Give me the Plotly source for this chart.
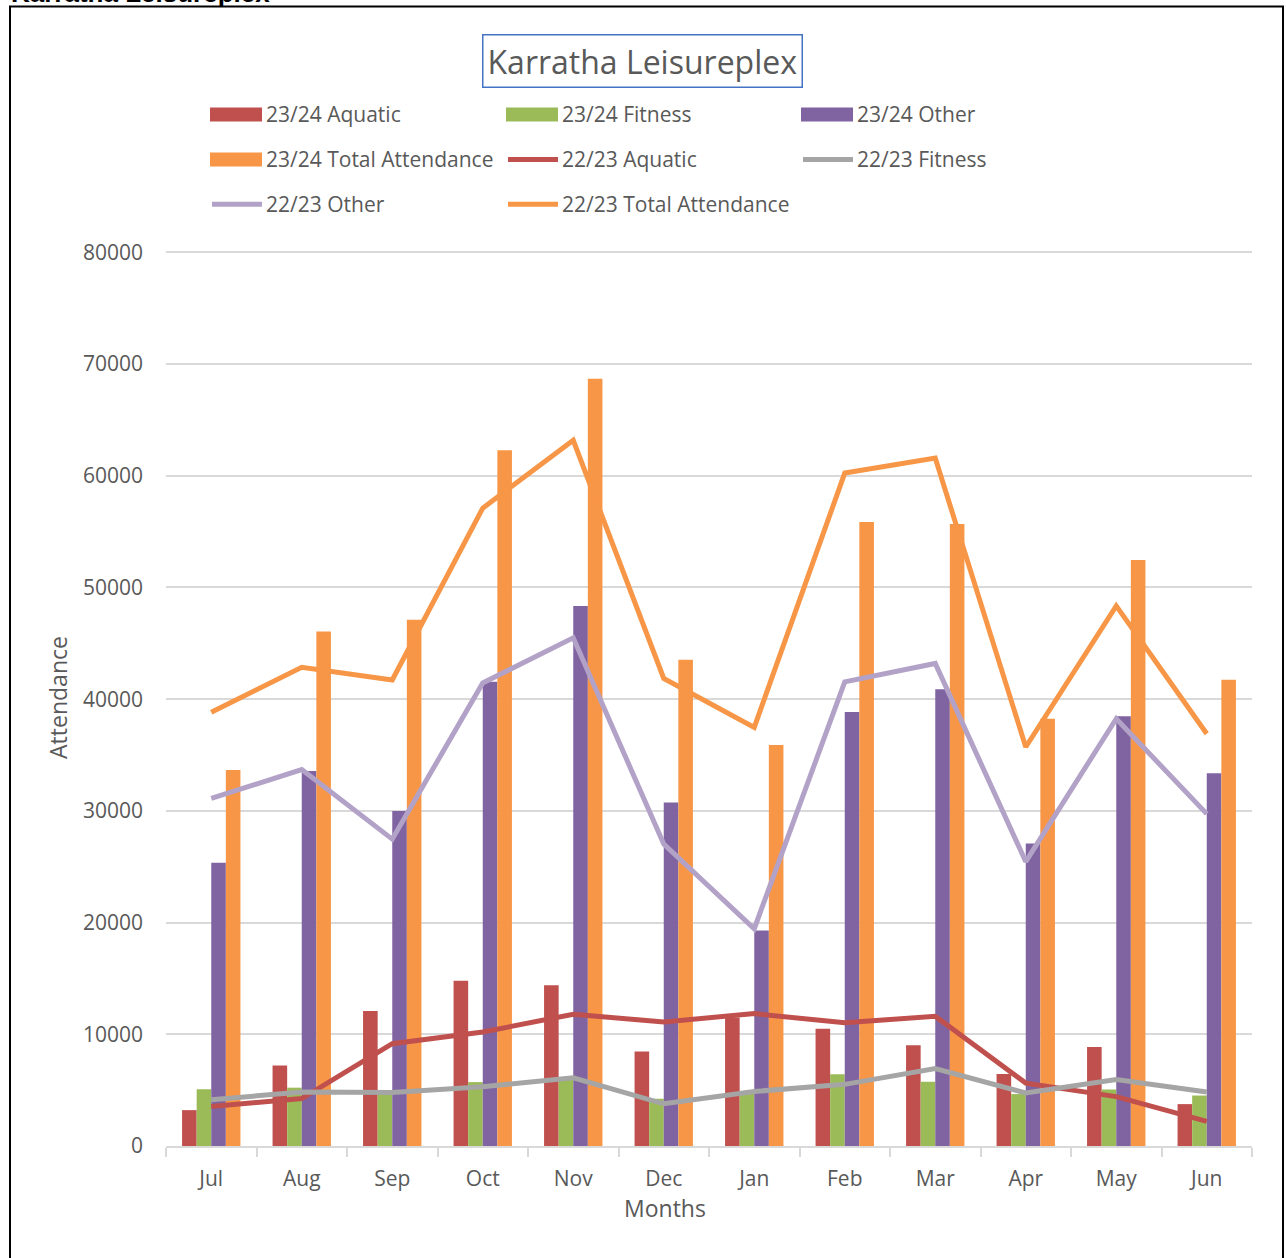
import plotly.graph_objects as go

months = ["Jul", "Aug", "Sep", "Oct", "Nov", "Dec", "Jan", "Feb", "Mar", "Apr", "May", "Jun"]

aquatic_2324 = [3210, 7200, 12080, 14800, 14380, 8450, 11500, 10500, 9020, 6450, 8870, 3750]
fitness_2324 = [5080, 5220, 4900, 5720, 6150, 4230, 4780, 6420, 5760, 4650, 5060, 4520]
other_2324 = [25350, 33570, 30000, 41550, 48350, 30740, 19290, 38860, 40880, 27070, 38480, 33370]
total_2324 = [33670, 46060, 47100, 62290, 68690, 43540, 35890, 55860, 55690, 38250, 52460, 41750]

aquatic_2223 = [3540, 4250, 9160, 10200, 11800, 11100, 11850, 11030, 11620, 5630, 4420, 2200]
fitness_2223 = [4150, 4830, 4800, 5300, 6100, 3780, 4880, 5520, 6930, 4750, 5950, 4830]
other_2223 = [31110, 33700, 27470, 41450, 45490, 27040, 19450, 41550, 43200, 25450, 38250, 29730]
total_2223 = [38820, 42860, 41720, 57100, 63170, 41850, 37480, 60240, 61580, 35720, 48350, 36900]

bar_names = ["23/24 Aquatic", "23/24 Fitness", "23/24 Other", "23/24 Total Attendance"]
line_names = ["22/23 Aquatic", "22/23 Fitness", "22/23 Other", "22/23 Total Attendance"]
bar_colors = ["#C0504D", "#9BBB59", "#8064A2", "#F79646"]
line_colors = ["#C0504D", "#A5A5A5", "#B3A2C7", "#F79646"]

W, H = 1286, 1258
Y_MAX = 80300
L, R, B = 166, 1252, 1146  # plot area in pixels
PX_PER_UNIT = 894 / 80000
T = B - Y_MAX * PX_PER_UNIT


def px(x):
    return (x - L) / (R - L)


def py(y):
    return (B - y) / (B - T)


TXT = "#595959"
FONT = "Open Sans"

fig = go.Figure()
for name, vals, col in zip(bar_names, [aquatic_2324, fitness_2324, other_2324, total_2324], bar_colors):
    fig.add_trace(go.Bar(x=months, y=vals, name=name, marker=dict(color=col, line=dict(width=0)),
                         showlegend=False))
for name, vals, col in zip(line_names, [aquatic_2223, fitness_2223, other_2223, total_2223], line_colors):
    fig.add_trace(go.Scatter(x=months, y=vals, name=name, mode="lines",
                             line=dict(color=col, width=5), showlegend=False))

shapes = []
annotations = []

# outer border
shapes.append(dict(type="rect", xref="paper", yref="paper", x0=px(10), x1=px(1283), y0=py(1275), y1=py(6),
                   line=dict(color="black", width=2), fillcolor="rgba(0,0,0,0)", layer="above"))

# clipped heading at very top
annotations.append(dict(xref="paper", yref="paper", x=px(9), y=py(10), xanchor="left", yanchor="bottom",
                        text="<b>Karratha Leisureplex</b>", showarrow=False,
                        font=dict(family="Liberation Sans", size=26, color="black")))

# chart title with box
annotations.append(dict(xref="paper", yref="paper", x=px(642), y=py(61), xanchor="center", yanchor="middle",
                        text="Karratha Leisureplex", showarrow=False,
                        font=dict(family=FONT, size=32, color=TXT),
                        bordercolor="#4472C4", borderwidth=1.5, borderpad=4, bgcolor="white"))

# x axis title
annotations.append(dict(xref="paper", yref="paper", x=px(665), y=py(1208), xanchor="center", yanchor="middle",
                        text="Months", showarrow=False, font=dict(family=FONT, size=23, color=TXT)))

# manual legend
legend_items = [(n, c, "bar") for n, c in zip(bar_names, bar_colors)] + \
               [(n, c, "line") for n, c in zip(line_names, line_colors)]
col_x = [210, 506, 801]
row_y = [114, 159, 204]
for i, (name, col, kind) in enumerate(legend_items):
    cx = col_x[i % 3]
    ry = row_y[i // 3]
    if kind == "bar":
        shapes.append(dict(type="rect", xref="paper", yref="paper", x0=px(cx), x1=px(cx + 52),
                           y0=py(ry + 7), y1=py(ry - 7), line=dict(width=0), fillcolor=col))
    else:
        shapes.append(dict(type="line", xref="paper", yref="paper", x0=px(cx + 2), x1=px(cx + 52),
                           y0=py(ry), y1=py(ry), line=dict(color=col, width=5)))
    annotations.append(dict(xref="paper", yref="paper", x=px(cx + 54), y=py(ry), xanchor="left",
                            yanchor="middle", text=name, showarrow=False,
                            font=dict(family=FONT, size=21, color=TXT)))

fig.update_layout(
    width=W, height=H,
    margin=dict(l=L, r=W - R, t=T, b=H - B, pad=0),
    paper_bgcolor="white", plot_bgcolor="white",
    barmode="group", bargap=0.355, bargroupgap=0,
    font=dict(family=FONT, size=20, color=TXT),
    shapes=shapes, annotations=annotations,
    showlegend=False,
)
fig.update_xaxes(
    type="category", showgrid=False, showline=True, linecolor="#D9D9D9", linewidth=1.5,
    ticks="outside", tickson="boundaries", ticklen=9, tickcolor="#D9D9D9", tickwidth=1.5,
    ticklabelstandoff=13,
    tickfont=dict(family=FONT, size=21, color=TXT),
)
fig.update_yaxes(
    range=[0, Y_MAX], tickvals=[0, 10000, 20000, 30000, 40000, 50000, 60000, 70000, 80000],
    showgrid=True, gridcolor="#D9D9D9", gridwidth=1.5,
    zeroline=False, showline=False, ticks="", ticklabelstandoff=22,
    tickfont=dict(family=FONT, size=21, color=TXT), tickformat="d",
    title=dict(text="Attendance", font=dict(family=FONT, size=23, color=TXT), standoff=8),
)

fig.write_html("out.html", config={"displayModeBar": False},
               post_script="document.body.style.margin='0px';")
